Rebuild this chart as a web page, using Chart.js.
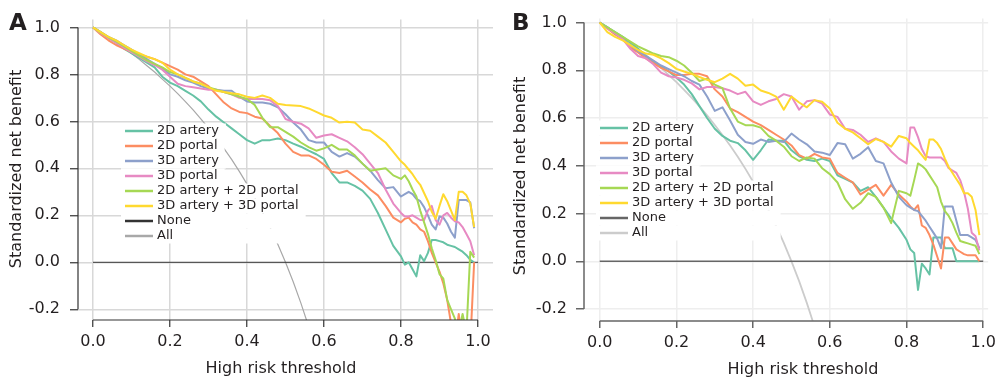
<!DOCTYPE html>
<html>
<head>
<meta charset="utf-8">
<script src="https://cdn.jsdelivr.net/npm/chart.js@4.4.0/dist/chart.umd.min.js"></script>
<style>
  html, body { margin: 0; padding: 0; background: #fff; }
  #wrap { position: relative; width: 1001px; height: 385px; }
  canvas { position: absolute; top: 0; }
</style>
</head>
<body>
<div id="wrap">
  <canvas id="chartA" width="500" height="385" style="left:0"></canvas>
  <canvas id="chartB" width="501" height="385" style="left:500px"></canvas>
</div>
<script>
// ---- data ----
const thresholds = [0, 0.02, 0.04, 0.06, 0.08, 0.10, 0.12, 0.14, 0.16, 0.18, 0.20, 0.22, 0.24, 0.26, 0.28, 0.30,
  0.32, 0.34, 0.36, 0.38, 0.40, 0.42, 0.44, 0.46, 0.48, 0.50, 0.52, 0.54, 0.56, 0.58, 0.60, 0.62, 0.64, 0.66,
  0.68, 0.70, 0.72, 0.74, 0.76, 0.78, 0.80,
  0.81, 0.82, 0.83, 0.84, 0.85, 0.86, 0.87, 0.88, 0.89, 0.90, 0.91, 0.92, 0.93, 0.94, 0.95, 0.96, 0.97, 0.98, 0.99];

const seriesNames = ['2D artery', '2D portal', '3D artery', '3D portal', '2D artery + 2D portal', '3D artery + 3D portal'];
const seriesColors = ['#66c2a5', '#fc8d62', '#8da0cb', '#e78ac3', '#a6d854', '#ffd92f'];

const xTicks = [0, 0.2, 0.4, 0.6, 0.8, 1.0];
const yTicks = [-0.2, 0, 0.2, 0.4, 0.6, 0.8, 1.0];

// Panel A
const aArtery2D = [1.0, 0.98, 0.955, 0.935, 0.91, 0.89, 0.87, 0.85, 0.83, 0.79, 0.765, 0.75, 0.73, 0.71, 0.685, 0.65,
  0.62, 0.595, 0.57, 0.545, 0.52, 0.505, 0.52, 0.52, 0.527, 0.52, 0.505, 0.492, 0.475, 0.46, 0.44, 0.38, 0.34, 0.34,
  0.325, 0.305, 0.27, 0.21, 0.14, 0.07, 0.025,
  -0.01, 0.0, -0.03, -0.06, 0.03, 0.005, 0.04, 0.095, 0.095, 0.09, 0.085, 0.075, 0.07, 0.065, 0.055, 0.045, 0.03, 0.01, 0.0];
const aPortal2D = [1.0, 0.97, 0.945, 0.925, 0.91, 0.895, 0.885, 0.875, 0.865, 0.85, 0.835, 0.82, 0.80, 0.79, 0.77, 0.75,
  0.715, 0.68, 0.655, 0.64, 0.635, 0.62, 0.612, 0.58, 0.55, 0.505, 0.47, 0.455, 0.455, 0.44, 0.415, 0.385, 0.38, 0.39,
  0.365, 0.34, 0.31, 0.285, 0.24, 0.19, 0.17,
  0.185, 0.19, 0.17, 0.16, 0.14, 0.13, 0.09, 0.04, 0.0, -0.04, -0.09, -0.16, -0.26, -0.35, -0.22, -0.35, -0.35, -0.35, 0.0];
const aArtery3D = [1.0, 0.98, 0.96, 0.945, 0.925, 0.905, 0.885, 0.865, 0.845, 0.825, 0.80, 0.79, 0.775, 0.765, 0.75, 0.74,
  0.735, 0.73, 0.73, 0.705, 0.685, 0.68, 0.68, 0.675, 0.66, 0.63, 0.595, 0.565, 0.52, 0.51, 0.51, 0.47, 0.45, 0.465,
  0.45, 0.42, 0.39, 0.35, 0.315, 0.32, 0.28,
  0.29, 0.3, 0.29, 0.27, 0.26, 0.235, 0.2, 0.16, 0.14, 0.195, 0.19, 0.165, 0.13, 0.105, 0.265, 0.265, 0.265, 0.255, 0.145];
const aPortal3D = [1.0, 0.975, 0.955, 0.935, 0.915, 0.895, 0.875, 0.855, 0.84, 0.82, 0.79, 0.76, 0.75, 0.745, 0.74, 0.735,
  0.735, 0.725, 0.715, 0.70, 0.695, 0.695, 0.695, 0.69, 0.665, 0.61, 0.598, 0.59, 0.57, 0.53, 0.54, 0.545, 0.53, 0.515,
  0.49, 0.46, 0.42, 0.38, 0.31, 0.25, 0.21,
  0.195, 0.195, 0.2, 0.19, 0.18, 0.18, 0.22, 0.24, 0.18, 0.16, 0.2, 0.21, 0.19, 0.175, 0.17, 0.15, 0.12, 0.09, 0.03];
const aCombined2D = [1.0, 0.978, 0.958, 0.94, 0.92, 0.9, 0.88, 0.86, 0.845, 0.83, 0.81, 0.80, 0.785, 0.77, 0.76, 0.745,
  0.735, 0.725, 0.715, 0.705, 0.695, 0.67, 0.615, 0.575, 0.575, 0.555, 0.535, 0.51, 0.49, 0.475, 0.485, 0.5, 0.48, 0.48,
  0.455, 0.42, 0.39, 0.395, 0.40, 0.37, 0.355,
  0.37, 0.345, 0.31, 0.28, 0.22, 0.17, 0.12, 0.06, 0.01, -0.05, -0.07, -0.16, -0.2, -0.24, -0.3, -0.22, -0.3, 0.045, 0.02];
const aCombined3D = [1.0, 0.98, 0.96, 0.945, 0.925, 0.905, 0.89, 0.875, 0.865, 0.85, 0.82, 0.80, 0.785, 0.77, 0.76, 0.745,
  0.73, 0.725, 0.72, 0.715, 0.705, 0.70, 0.71, 0.70, 0.675, 0.67, 0.668, 0.665, 0.655, 0.64, 0.625, 0.615, 0.595, 0.598,
  0.595, 0.565, 0.56, 0.535, 0.51, 0.47, 0.43,
  0.415, 0.395, 0.375, 0.35, 0.33, 0.295, 0.26, 0.215, 0.185, 0.24, 0.29, 0.26, 0.22, 0.18, 0.3, 0.3, 0.285, 0.25, 0.15];

// Panel B
const bArtery2D = [1.0, 0.98, 0.96, 0.94, 0.915, 0.89, 0.86, 0.835, 0.815, 0.795, 0.77, 0.74, 0.70, 0.65, 0.60, 0.555,
  0.525, 0.505, 0.495, 0.465, 0.425, 0.465, 0.51, 0.505, 0.505, 0.465, 0.44, 0.425, 0.42, 0.43, 0.42, 0.36, 0.345, 0.33,
  0.295, 0.31, 0.27, 0.225, 0.18, 0.14, 0.09,
  0.05, 0.035, -0.12, -0.01, -0.03, -0.055, 0.1, 0.1, 0.1, 0.055, 0.055, 0.055, 0.0, 0.0, 0.0, 0.0, 0.0, 0.0, 0.0];
const bPortal2D = [1.0, 0.975, 0.95, 0.93, 0.895, 0.875, 0.85, 0.83, 0.81, 0.795, 0.78, 0.78, 0.785, 0.785, 0.775, 0.72,
  0.69, 0.64, 0.625, 0.605, 0.585, 0.57, 0.55, 0.53, 0.51, 0.485, 0.445, 0.43, 0.45, 0.435, 0.43, 0.37, 0.35, 0.33,
  0.28, 0.30, 0.32, 0.275, 0.32, 0.28, 0.25,
  0.23, 0.215, 0.235, 0.15, 0.14, 0.11, 0.07, 0.02, -0.03, 0.1, 0.1, 0.075, 0.05, 0.04, 0.03, 0.025, 0.025, 0.025, 0.0];
const bArtery3D = [1.0, 0.98, 0.955, 0.93, 0.905, 0.88, 0.86, 0.84, 0.82, 0.805, 0.79, 0.775, 0.755, 0.74, 0.69, 0.63,
  0.645, 0.59, 0.53, 0.5, 0.492, 0.51, 0.5, 0.505, 0.5, 0.535, 0.51, 0.49, 0.46, 0.455, 0.445, 0.495, 0.49, 0.43,
  0.45, 0.478, 0.42, 0.41, 0.33, 0.27, 0.235,
  0.225, 0.215, 0.21, 0.19, 0.17, 0.145, 0.12, 0.095, 0.055, 0.23, 0.23, 0.23, 0.17, 0.11, 0.11, 0.11, 0.1, 0.09, 0.055];
const bPortal3D = [1.0, 0.975, 0.955, 0.93, 0.89, 0.86, 0.85, 0.825, 0.79, 0.775, 0.77, 0.76, 0.745, 0.72, 0.73, 0.73,
  0.725, 0.715, 0.70, 0.71, 0.67, 0.655, 0.67, 0.68, 0.70, 0.69, 0.635, 0.67, 0.675, 0.66, 0.615, 0.605, 0.555, 0.55,
  0.53, 0.5, 0.515, 0.5, 0.46, 0.43, 0.41,
  0.56, 0.56, 0.52, 0.47, 0.44, 0.435, 0.435, 0.435, 0.435, 0.42, 0.39, 0.38, 0.37, 0.34, 0.29, 0.22, 0.12, 0.105, 0.045];
const bCombined2D = [1.0, 0.98, 0.96, 0.94, 0.92, 0.9, 0.885, 0.87, 0.86, 0.855, 0.84, 0.82, 0.79, 0.755, 0.765, 0.74,
  0.725, 0.64, 0.585, 0.57, 0.57, 0.56, 0.525, 0.505, 0.48, 0.44, 0.42, 0.435, 0.43, 0.39, 0.365, 0.33, 0.26, 0.22,
  0.245, 0.285, 0.27, 0.225, 0.16, 0.295, 0.285,
  0.275, 0.34, 0.41, 0.4, 0.385, 0.36, 0.335, 0.31, 0.25, 0.21, 0.19, 0.16, 0.12, 0.085, 0.08, 0.075, 0.07, 0.065, 0.03];
const bCombined3D = [1.0, 0.96, 0.94, 0.925, 0.905, 0.885, 0.87, 0.865, 0.85, 0.83, 0.806, 0.795, 0.785, 0.772, 0.76, 0.75,
  0.765, 0.785, 0.765, 0.735, 0.74, 0.715, 0.705, 0.69, 0.635, 0.69, 0.665, 0.645, 0.675, 0.668, 0.64, 0.58, 0.555, 0.54,
  0.515, 0.49, 0.512, 0.50, 0.48, 0.525, 0.515,
  0.495, 0.48, 0.465, 0.445, 0.425, 0.51, 0.51, 0.495, 0.47, 0.43, 0.395, 0.37, 0.345, 0.32, 0.285, 0.285, 0.27, 0.215, 0.11];

// reference lines, same in both panels
const allValues = [1.0, 0.980, 0.958, 0.936, 0.913, 0.889, 0.864, 0.837, 0.810, 0.780, 0.750, 0.718, 0.684, 0.649, 0.611,
  0.571, 0.529, 0.485, 0.438, 0.387, 0.333, 0.276, 0.214, 0.148, 0.077, 0.0, -0.083, -0.174, -0.273, -0.381];
const noneX = [0, 1];
const noneValues = [0, 0];

const FONT = "'DejaVu Sans', Verdana, sans-serif";
const INK = '#231f20';

function pts(xs, ys) {
  return ys.map((v, i) => ({ x: xs[i], y: v }));
}

// axis lines, legend, titles and panel letter
function decorPlugin(p) {
  return {
    id: 'decor' + p.letter,
    afterDraw(chart) {
      const c = chart.ctx;
      const xs = chart.scales.x, ys = chart.scales.y;
      const area = chart.chartArea;
      c.save();
      // axis lines only over the data range
      c.strokeStyle = p.axisColor;
      c.lineWidth = p.axisWidth;
      c.beginPath();
      c.moveTo(area.left, ys.getPixelForValue(-0.2));
      c.lineTo(area.left, ys.getPixelForValue(1.0));
      c.moveTo(xs.getPixelForValue(0), area.bottom);
      c.lineTo(xs.getPixelForValue(1.0), area.bottom);
      c.stroke();

      // legend
      const labels = seriesNames.concat(['None', 'All']);
      const colors = seriesColors.concat([p.noneColor, p.allColor]);
      c.font = '13px ' + FONT;
      const widths = labels.map(t => c.measureText(t).width);
      const wide = Math.max.apply(null, widths.slice(4));
      labels.forEach((t, i) => {
        const cy = p.legY + i * 15;
        const right = i < 4 ? p.legText + widths[i] + 7 : p.legText + wide + 7;
        c.fillStyle = '#fff';
        c.fillRect(p.legX - 4, cy - 7.5, right - p.legX + 4, 15);
      });
      labels.forEach((t, i) => {
        const cy = p.legY + i * 15;
        c.strokeStyle = colors[i];
        c.lineWidth = 2.5;
        c.beginPath();
        c.moveTo(p.legX, cy);
        c.lineTo(p.legX + 28, cy);
        c.stroke();
        c.fillStyle = INK;
        c.textAlign = 'left';
        c.textBaseline = 'middle';
        c.fillText(t, p.legText, cy);
      });

      // titles
      c.fillStyle = INK;
      c.font = '16px ' + FONT;
      c.textAlign = 'center';
      c.textBaseline = 'middle';
      c.fillText('High risk threshold', p.xTitle[0], p.xTitle[1]);
      c.save();
      c.translate(p.yTitle[0], p.yTitle[1]);
      c.rotate(-Math.PI / 2);
      c.fillText('Standardized net benefit', 0, 0);
      c.restore();

      c.font = 'bold 23px ' + FONT;
      c.textAlign = 'left';
      c.textBaseline = 'alphabetic';
      c.fillText(p.letter, p.letterPos[0], p.letterPos[1]);
      c.restore();
    }
  };
}

function buildChart(id, p, series) {
  const datasets = series.map((vals, i) => ({
    label: seriesNames[i],
    data: pts(thresholds, vals),
    borderColor: seriesColors[i],
    borderWidth: 2,
    order: 6 - i
  }));
  datasets.push({
    label: 'None', data: pts(noneX, noneValues),
    borderColor: p.noneColor, borderWidth: p.noneWidth, order: 10
  });
  datasets.push({
    label: 'All', data: pts(thresholds, allValues),
    borderColor: p.allColor, borderWidth: p.allWidth, order: 11
  });

  const canvas = document.getElementById(id);
  return new Chart(canvas, {
    type: 'line',
    data: { datasets },
    options: {
      responsive: false,
      animation: false,
      devicePixelRatio: 1,
      layout: { padding: { top: p.top, right: canvas.width - p.right, left: 0, bottom: 0 } },
      plugins: { legend: { display: false }, tooltip: { enabled: false } },
      elements: { point: { radius: 0 }, line: { tension: 0, borderJoinStyle: 'round' } },
      scales: {
        x: {
          type: 'linear', min: p.xMin, max: p.xMax,
          afterBuildTicks: s => { s.ticks = xTicks.map(v => ({ value: v })); },
          afterFit: s => { s.height = canvas.height - p.bottom; },
          grid: { color: p.gridColor, lineWidth: 1.5, tickColor: p.axisColor, tickLength: 7, tickWidth: p.axisWidth },
          border: { display: false },
          ticks: { color: INK, font: { family: FONT, size: 16 }, padding: 5, maxRotation: 0, callback: v => v.toFixed(1) }
        },
        y: {
          type: 'linear', min: p.yMin, max: p.yMax,
          afterBuildTicks: s => { s.ticks = yTicks.map(v => ({ value: v })); },
          afterFit: s => { s.width = p.left; },
          grid: { color: p.gridColor, lineWidth: 1.5, tickColor: p.axisColor, tickLength: 8, tickWidth: p.axisWidth },
          border: { display: false },
          ticks: { color: INK, font: { family: FONT, size: 16 }, padding: p.yPad, callback: v => v.toFixed(1) }
        }
      }
    },
    plugins: [decorPlugin(p)]
  });
}

buildChart('chartA', {
  letter: 'A', letterPos: [9, 30],
  left: 78, right: 493, top: 12, bottom: 320,
  xMin: -0.039, xMax: 1.039, yMin: -0.2457, yMax: 1.0332,
  gridColor: '#d8d8d8', axisColor: '#333333', axisWidth: 1.2, yPad: 10,
  noneColor: '#333333', noneWidth: 1, allColor: '#a8a8a8', allWidth: 1.2,
  legX: 125, legText: 157, legY: 131,
  xTitle: [281, 369], yTitle: [17, 169]
}, [aArtery2D, aPortal2D, aArtery3D, aPortal3D, aCombined2D, aCombined3D]);

buildChart('chartB', {
  letter: 'B', letterPos: [12, 30],
  left: 84, right: 495, top: 12, bottom: 321,
  xMin: -0.041, xMax: 1.0128, yMin: -0.25, yMax: 1.0164,
  gridColor: '#eeeeee', axisColor: '#666666', axisWidth: 1.5, yPad: 9,
  noneColor: '#666666', noneWidth: 1.5, allColor: '#cccccc', allWidth: 1.8,
  legX: 100, legText: 132, legY: 128,
  xTitle: [303, 370], yTitle: [21, 176]
}, [bArtery2D, bPortal2D, bArtery3D, bPortal3D, bCombined2D, bCombined3D]);
</script>
</body>
</html>
